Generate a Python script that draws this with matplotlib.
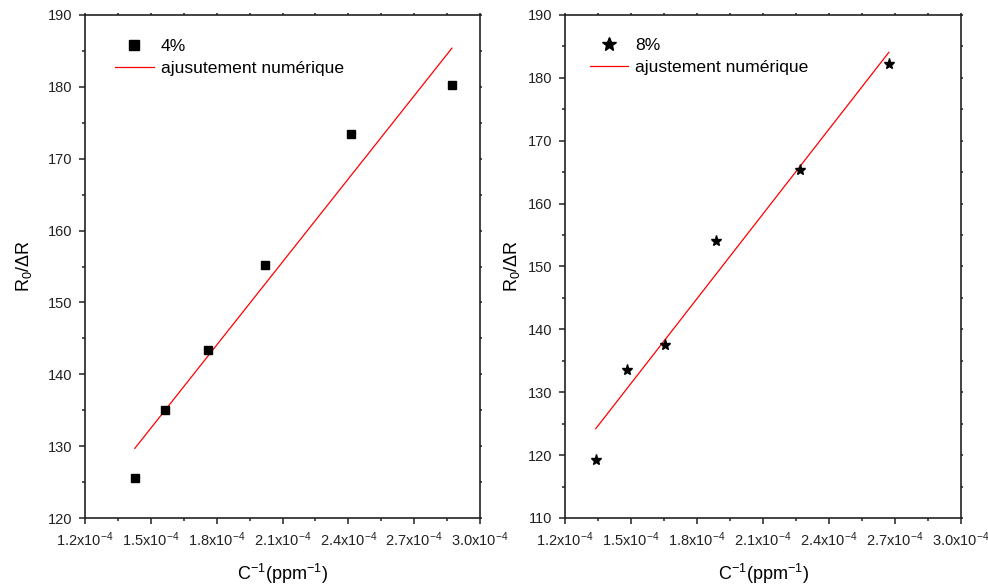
import matplotlib
matplotlib.use('Agg')
import matplotlib.pyplot as plt
from matplotlib.ticker import MultipleLocator, FuncFormatter
import numpy as np

plt.rcParams['font.family'] = ['Liberation Sans', 'DejaVu Sans']
plt.rcParams['mathtext.fontset'] = 'custom'
plt.rcParams['mathtext.rm'] = 'Liberation Sans'
plt.rcParams['mathtext.it'] = 'Liberation Sans:italic'

# 4% : C^-1 (ppm^-1) et R0/dR
x_4 = [1.427e-4, 1.565e-4, 1.759e-4, 2.019e-4, 2.414e-4, 2.872e-4]
y_4 = [125.6, 135.0, 143.4, 155.2, 173.4, 180.2]

# 8%
x_8 = [1.340e-4, 1.481e-4, 1.655e-4, 1.887e-4, 2.270e-4, 2.672e-4]
y_8 = [119.3, 133.5, 137.5, 154.1, 165.4, 182.2]

x_ticks = [1.2e-4, 1.5e-4, 1.8e-4, 2.1e-4, 2.4e-4, 2.7e-4, 3.0e-4]


def fmt_x(v, pos):
    return r'%.1fx10$^{\mathregular{-4}}$' % (v * 1e4)


def style_axes(ax, ylim, ypad):
    ax.set_xlim(1.2e-4, 3.0e-4)
    ax.set_ylim(*ylim)
    ax.set_xticks(x_ticks)
    ax.xaxis.set_minor_locator(MultipleLocator(0.15e-4))
    ax.yaxis.set_major_locator(MultipleLocator(10))
    ax.yaxis.set_minor_locator(MultipleLocator(5))
    ax.xaxis.set_major_formatter(FuncFormatter(fmt_x))
    for s in ax.spines.values():
        s.set_linewidth(1.2)
        s.set_color('#222222')
    # bas / gauche : ticks vers l'exterieur
    ax.tick_params(which='major', direction='out', length=4, width=1.1,
                   labelsize=10.5, colors='#222222', pad=5)
    ax.tick_params(which='minor', direction='out', length=2.5, width=1.1, colors='#222222')
    # haut / droite : juste des petits points
    ax.tick_params(which='both', top=True, right=True)
    for t in ax.xaxis.get_major_ticks() + ax.xaxis.get_minor_ticks():
        t.tick2line.set_markersize(1.2)
    for t in ax.yaxis.get_major_ticks() + ax.yaxis.get_minor_ticks():
        t.tick2line.set_markersize(1.2)
    ax.set_xlabel(r'C$^{\mathregular{-1}}$(ppm$^{\mathregular{-1}}$)', fontsize=13, labelpad=9)
    ax.set_ylabel(r'R$_{\mathregular{0}}$/$\Delta$R', fontsize=13, labelpad=ypad)


fig = plt.figure(figsize=(9.88, 5.85), dpi=100)
ax1 = fig.add_axes([85 / 988, 67 / 585, 395 / 988, 503 / 585])
ax2 = fig.add_axes([565 / 988, 67 / 585, 396 / 988, 503 / 585])

leg_kw = dict(loc='upper left', frameon=False, fontsize=12.6, handlelength=2.2,
              handletextpad=0.4, borderaxespad=0.8, labelspacing=0.4,
              markerscale=1.3)

# panneau 4%
p1 = np.polyfit(x_4, y_4, 1)
xf1 = np.array([min(x_4), max(x_4)])
ax1.plot(x_4, y_4, 's', color='black', markersize=6, label='4%', zorder=3)
ax1.plot(xf1, np.polyval(p1, xf1), '-', color='red', linewidth=0.9,
         label='ajusutement numérique')
style_axes(ax1, (120, 190), 10)
ax1.legend(bbox_to_anchor=(0.023, 0.995), **leg_kw)

# panneau 8%
p2 = np.polyfit(x_8, y_8, 1)
xf2 = np.array([min(x_8), max(x_8)])
ax2.plot(x_8, y_8, '*', color='black', markersize=8, label='8%', zorder=3)
ax2.plot(xf2, np.polyval(p2, xf2), '-', color='red', linewidth=0.9,
         label='ajustement numérique')
style_axes(ax2, (110, 190), 4)
ax2.legend(bbox_to_anchor=(0.010, 0.997), **leg_kw)

plt.savefig('out.png', dpi=100)
